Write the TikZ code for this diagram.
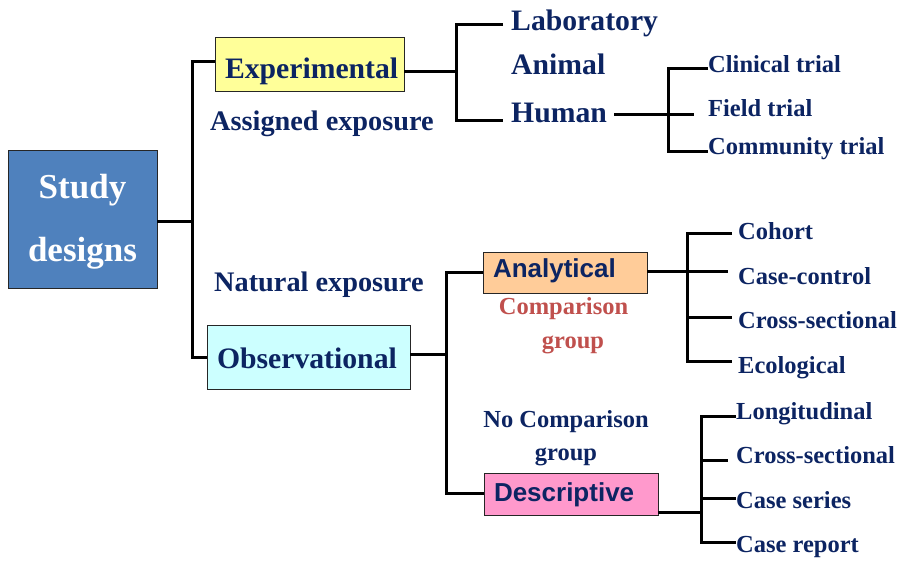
\documentclass[tikz,border=0pt]{standalone}
\usepackage{fontspec}
\setmainfont{Liberation Serif}
\newfontfamily\arialfont{Liberation Sans}
\usetikzlibrary{calc}
\definecolor{navy}{RGB}{12,36,98}
\definecolor{compred}{RGB}{192,80,77}
\definecolor{sdblue}{RGB}{79,129,189}
\definecolor{expyellow}{RGB}{255,255,153}
\definecolor{obscyan}{RGB}{204,255,255}
\definecolor{anaorange}{RGB}{255,204,153}
\definecolor{despink}{RGB}{255,153,204}
\begin{document}
\begin{tikzpicture}[x=1pt,y=-1pt,
  lbl/.style={anchor=base west, inner sep=0pt, text=navy, font=\bfseries\fontsize{24.5}{24.5}\selectfont},
  big/.style={lbl, font=\bfseries\fontsize{29.7}{29.7}\selectfont},
  mid/.style={lbl, font=\bfseries\fontsize{28.3}{28.3}\selectfont},
  box/.style={draw=black!85, line width=0.8pt, inner ysep=0pt, inner xsep=10pt, align=left, text=navy},
  serifbox/.style={box, font=\bfseries\fontsize{29.7}{29.7}\selectfont},
  sansbox/.style={box, font=\arialfont\bfseries\fontsize{26}{26}\selectfont},
  conn/.style={draw=black, line width=3pt}]
\useasboundingbox (0,0) rectangle (902,561);

% boxes
\node[box, fill=sdblue, text=white, align=center, text width=129pt, minimum height=138pt,
      text height=30pt, text depth=70pt,
      font=\bfseries\fontsize{35}{63}\selectfont] (sd) at (82.5,219) {Study\\designs};
\node[serifbox, fill=expyellow, text width=169pt, minimum height=54pt, text height=30pt, text depth=0pt] (exp) at (309.5,64) {Experimental};
\node[serifbox, fill=obscyan, text width=183pt, minimum height=64pt, text height=22pt, text depth=0pt] (obs) at (308.5,357) {Observational};
\node[sansbox, fill=anaorange, text width=144pt, minimum height=41pt, text height=11pt, text depth=0pt] (ana) at (565,272.5) {Analytical};
\node[sansbox, fill=despink, text width=154pt, minimum height=42pt, text height=14pt, text depth=0pt] (des) at (571,494) {Descriptive};

% labels
\node[mid] (asg) at (210,130.5) {Assigned exposure};
\node[mid] (nat) at (214,292) {Natural exposure};
\node[big] (lab) at (511,31) {Laboratory};
\node[big] (ani) at (511,75) {Animal};
\node[big] (hum) at (511,123) {Human};
\node[lbl] (cli) at (708,73) {Clinical trial};
\node[lbl] (fie) at (708,117) {Field trial};
\node[lbl] (com) at (708,155) {Community trial};
\node[lbl] (coh) at (738,240) {Cohort};
\node[lbl] (cc) at (738,285) {Case-control};
\node[lbl] (cs1) at (738,328) {Cross-sectional};
\node[lbl] (eco) at (738,373) {Ecological};
\node[lbl] (lon) at (736,419) {Longitudinal};
\node[lbl] (cs2) at (736,463) {Cross-sectional};
\node[lbl] (ser) at (736,508) {Case series};
\node[lbl] (rep) at (736,552) {Case report};
\node[lbl, anchor=base, text=compred, align=center, font=\bfseries\fontsize{24.5}{33}\selectfont] (cmp) at (563.5,348) {Comparison\\\hspace*{19pt}group};
\node[lbl, anchor=base, align=center, font=\bfseries\fontsize{24.5}{33}\selectfont] (ncmp) at (566,460) {No Comparison\\group};

% connectors
\draw[conn] (sd.east |- 0,222) -- (192,222);
\draw[conn] (exp.west |- 0,62) -| (192,357) -- (obs.west |- 0,357);
\draw[conn] (exp.east |- 0,72) -- (456,72);
\draw[conn] ($(lab.base west)+(-8,-6)$) -| (456,121) -- ($(hum.base west)+(-8,-2)$);
\draw[conn] ($(hum.base east)+(7,-8)$) -- ($(fie.base west)+(-14,-2)$);
\draw[conn] ($(cli.base west)+(0,-4)$) -| (668,152) -- ($(com.base west)+(0,-3)$);
\draw[conn] (obs.east |- 0,354) -- (446,354);
\draw[conn] (ana.west |- 0,273) -| (446,493) -- (des.west |- 0,493);
\draw[conn] (ana.east |- 0,272) -- ($(cc.base west)+(-10,-13)$);
\draw[conn] ($(coh.base west)+(-6,-6)$) -| (687,361) -- ($(eco.base west)+(-6,-12)$);
\draw[conn] (687,317) -- ($(cs1.base west)+(-6,-11)$);
\draw[conn] (des.east |- 0,512) -- (701,512);
\draw[conn] ($(lon.base west)+(0,-3)$) -| (701,542) -- ($(rep.base west)+(0,-10)$);
\draw[conn] (701,460) -- ($(cs2.base west)+(-8,-3)$);
\draw[conn] (701,498) -- ($(ser.base west)+(0,-10)$);
\end{tikzpicture}
\end{document}
